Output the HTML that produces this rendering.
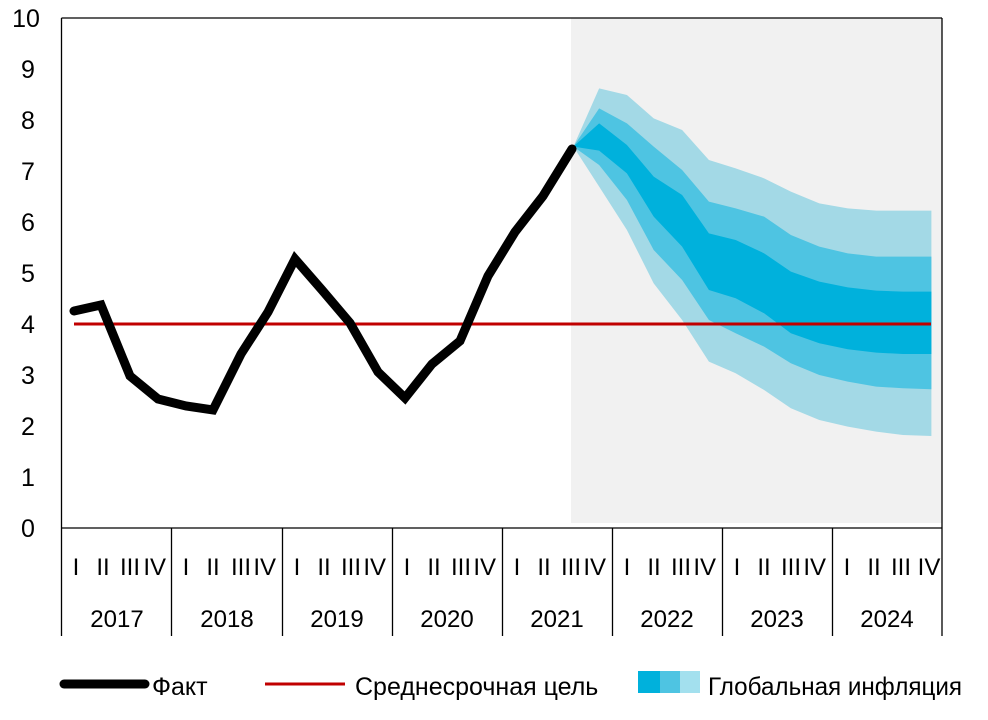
<!DOCTYPE html>
<html><head><meta charset="utf-8"><style>
html,body{margin:0;padding:0;background:#fff;}
svg{display:block;font-family:"Liberation Sans",sans-serif;}
</style></head><body>
<svg width="988" height="720" viewBox="0 0 988 720" xmlns="http://www.w3.org/2000/svg">
<rect x="571" y="18" width="371" height="505" fill="#f1f1f1"/>
<g transform="translate(560,80) scale(0.3346,0.3333)">
<polygon fill="#a3d9e6" points="40,200 117,25 200,45 280,115 365,150 445,240 525,265 610,295 690,335 775,370 860,385 945,392 1025,392 1110,392 1110,1068 1025,1065 945,1055 860,1040 775,1020 690,985 610,930 525,880 445,845 365,720 280,610 200,450 117,320"/>
<polygon fill="#4ec4e2" points="40,200 117,85 200,130 280,200 365,270 445,365 525,385 610,410 690,465 775,500 860,520 945,530 1025,530 1110,530 1110,928 1025,925 945,920 860,905 775,885 690,850 610,800 525,760 445,720 365,600 280,510 200,360 117,255"/>
<polygon fill="#00b1dc" points="40,200 117,130 200,195 280,290 365,345 445,460 525,480 610,520 690,575 775,605 860,622 945,632 1025,635 1110,635 1110,822 1025,822 945,818 860,808 775,790 690,760 610,700 525,655 445,630 365,500 280,410 200,280 117,212"/>
</g>
<g stroke="#000" stroke-width="1.3" fill="none">
<line x1="61.5" y1="18" x2="61.5" y2="636"/>
<line x1="61.5" y1="18" x2="942" y2="18"/>
<line x1="942" y1="18" x2="942" y2="636"/>
<line x1="61.5" y1="528" x2="942" y2="528"/>
<line x1="171.5" y1="528" x2="171.5" y2="636"/>
<line x1="282.5" y1="528" x2="282.5" y2="636"/>
<line x1="392.5" y1="528" x2="392.5" y2="636"/>
<line x1="502.5" y1="528" x2="502.5" y2="636"/>
<line x1="612.5" y1="528" x2="612.5" y2="636"/>
<line x1="722.5" y1="528" x2="722.5" y2="636"/>
<line x1="832.5" y1="528" x2="832.5" y2="636"/>
</g>
<line x1="74" y1="324" x2="931" y2="324" stroke="#c00000" stroke-width="3"/>
<polyline fill="none" stroke="#000" stroke-width="9" stroke-linejoin="miter" stroke-linecap="round" points="74,311 101,305 130,376 158,399 186,406 213,410 241,354 268,312 295,259 322,290 350,323 378,372 405,398 432,364 460,341 488,276 515,232 543,196 572,149"/>
<g font-size="25" fill="#000" text-anchor="middle">
<text x="26" y="27">10</text><text x="28" y="78">9</text><text x="28" y="129">8</text><text x="28" y="180">7</text><text x="28" y="231">6</text><text x="28" y="282">5</text><text x="28" y="333">4</text><text x="28" y="384">3</text><text x="28" y="435">2</text><text x="28" y="486">1</text><text x="28" y="537">0</text>
</g>
<g font-size="24" fill="#000" text-anchor="middle">
<text y="575"><tspan x="76">I</tspan><tspan x="103">II</tspan><tspan x="130">III</tspan><tspan x="158">IV</tspan>
<tspan x="186">I</tspan><tspan x="213">II</tspan><tspan x="241">III</tspan><tspan x="268">IV</tspan>
<tspan x="297">I</tspan><tspan x="324">II</tspan><tspan x="351">III</tspan><tspan x="378">IV</tspan>
<tspan x="407">I</tspan><tspan x="434">II</tspan><tspan x="461">III</tspan><tspan x="488">IV</tspan>
<tspan x="517">I</tspan><tspan x="544">II</tspan><tspan x="571">III</tspan><tspan x="598">IV</tspan>
<tspan x="627">I</tspan><tspan x="654">II</tspan><tspan x="681">III</tspan><tspan x="708">IV</tspan>
<tspan x="737">I</tspan><tspan x="764">II</tspan><tspan x="791">III</tspan><tspan x="818">IV</tspan>
<tspan x="847">I</tspan><tspan x="874">II</tspan><tspan x="901">III</tspan><tspan x="929">IV</tspan></text>
<text y="627"><tspan x="117">2017</tspan><tspan x="227">2018</tspan><tspan x="337">2019</tspan><tspan x="447">2020</tspan><tspan x="557">2021</tspan><tspan x="667">2022</tspan><tspan x="777">2023</tspan><tspan x="887">2024</tspan></text>
</g>
<line x1="64" y1="684" x2="145" y2="684" stroke="#000" stroke-width="9" stroke-linecap="round"/>
<text x="152" y="695" font-size="25">Факт</text>
<line x1="265" y1="684" x2="345" y2="684" stroke="#c00000" stroke-width="3"/>
<text x="355" y="695" font-size="25">Среднесрочная цель</text>
<rect x="638" y="671" width="22" height="22" fill="#00b1dc"/>
<rect x="660" y="671" width="20" height="22" fill="#4ec4e2"/>
<rect x="680" y="671" width="20" height="22" fill="#a3e0ee"/>
<text x="708" y="695" font-size="25" textLength="254" lengthAdjust="spacingAndGlyphs">Глобальная инфляция</text>
</svg>
</body></html>
